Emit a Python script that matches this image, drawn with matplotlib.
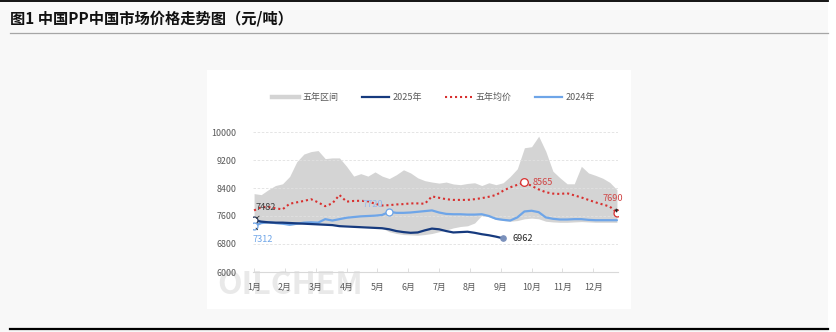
"""PP weekly price chart: five-year band, five-year average, 2024 and 2025."""
import numpy as np
import matplotlib
matplotlib.use("Agg")
import matplotlib.pyplot as plt
from matplotlib.lines import Line2D
from matplotlib.patches import Rectangle

plt.rcParams["font.family"] = ["Noto Sans CJK SC", "DejaVu Sans"]

W, H = 836, 332

weeks = np.arange(1, 53)
months = ["1月", "2月", "3月", "4月", "5月", "6月", "7月", "8月", "9月", "10月", "11月", "12月"]

band_high = [8240, 8210, 8350, 8470, 8520, 8730, 9150, 9370, 9440, 9470,
             9240, 9260, 9260, 9020, 8740, 8810, 8740, 8860, 8740, 8670,
             8780, 8920, 8830, 8690, 8610, 8570, 8540, 8570, 8515, 8495,
             8530, 8550, 8470, 8550, 8495, 8550, 8730, 8950, 9550, 9580,
             9880, 9450, 8880, 8690, 8520, 8520, 9020, 8830, 8760, 8680,
             8560, 8350]
band_low = [7290, 7380, 7400, 7380, 7370, 7340, 7360, 7380, 7390, 7380,
            7370, 7360, 7350, 7340, 7330, 7320, 7300, 7290, 7250, 7150,
            7100, 7070, 7060, 7050, 7070, 7100, 7150, 7200, 7260, 7300,
            7320, 7400, 7620, 7580, 7500, 7470, 7450, 7470, 7520, 7540,
            7520, 7450, 7430, 7420, 7420, 7430, 7440, 7430, 7420, 7420,
            7420, 7420]
avg_5y = [7760, 7850, 7860, 7820, 7790, 7950, 7990, 8030, 8080, 7990,
          7880, 7960, 8200, 8010, 8030, 8035, 8020, 7950, 7900, 7910,
          7930, 7940, 7960, 7960, 7950, 8160, 8120, 8080, 8060, 8060,
          8060, 8080, 8110, 8150, 8200, 8320, 8420, 8490, 8565, 8460,
          8360, 8280, 8240, 8230, 8250, 8190, 8130, 8060, 7990, 7930,
          7870, 7690]
price_2024 = [7312, 7400, 7420, 7400, 7380, 7350, 7380, 7410, 7420, 7410,
              7510, 7470, 7510, 7550, 7570, 7590, 7600, 7610, 7630, 7720,
              7690, 7690, 7700, 7720, 7740, 7760, 7700, 7660, 7650, 7650,
              7640, 7640, 7650, 7600, 7520, 7490, 7470, 7560, 7730, 7750,
              7710, 7560, 7520, 7500, 7500, 7510, 7510, 7490, 7480, 7480,
              7480, 7480]
price_2025 = [7482, 7440, 7420, 7410, 7410, 7400, 7390, 7380, 7370, 7360,
              7350, 7340, 7310, 7300, 7290, 7280, 7270, 7260, 7250, 7220,
              7170, 7140, 7120, 7130, 7190, 7240, 7220, 7170, 7130, 7140,
              7150, 7120, 7080, 7050, 7010, 6962]

C_BAND = "#d4d4d4"
C_2025 = "#163a7e"
C_2024 = "#6ea5e8"
C_AVG = "#d8302f"
C_TICK = "#595959"


def fx(px):
    return px / W


def fy(py):
    return 1 - py / H


fig = plt.figure(figsize=(W / 100, H / 100), dpi=100, facecolor="#f8f8f8")

# page frame: title rule lines and white chart card (kept below the axes)
fig.add_artist(Rectangle((fx(828), 0), 1 - fx(828), 1, transform=fig.transFigure,
                         facecolor="white", edgecolor="none", zorder=-2))
fig.add_artist(Rectangle((fx(207), fy(309)), fx(631) - fx(207), fy(70) - fy(309),
                         transform=fig.transFigure, facecolor="white", edgecolor="none",
                         zorder=-2))
fig.add_artist(Line2D([0, fx(828)], [fy(0.8)] * 2, color="black", lw=1.3))
fig.add_artist(Line2D([fx(10), fx(828)], [fy(33.3)] * 2, color="#a6a6a6", lw=0.9))
fig.add_artist(Line2D([fx(10), fx(828)], [fy(329)] * 2, color="black", lw=1.6))
fig.text(fx(10), fy(18), "图1 中国PP中国市场价格走势图（元/吨）", fontsize=11,
         fontweight="bold", color="#111111", ha="left", va="center")

# faint logo behind the lower-left corner of the plot
fig.text(fx(217), fy(301), "OILCHEM", fontsize=23, fontweight="bold",
         color="#e9e9e9", ha="left", va="bottom", zorder=-1)

ax = fig.add_axes([fx(253), fy(272), fx(618) - fx(253), fy(132) - fy(272)])
ax.set_facecolor("none")
ax.set_xlim(0.85, 52.15)
ax.set_ylim(6000, 10000)

ax.fill_between(weeks, band_low, band_high, color=C_BAND, lw=0, zorder=1)
ax.plot(weeks, price_2024, color=C_2024, lw=1.6, zorder=2, solid_capstyle="round")
ax.plot(weeks[:len(price_2025)], price_2025, color=C_2025, lw=1.6, zorder=3,
        solid_capstyle="round")
ax.plot(weeks, avg_5y, color=C_AVG, lw=1.5, ls=(0, (1, 1.4)), zorder=4,
        dash_capstyle="butt")

# highlighted points
w_2025_end = weeks[len(price_2025) - 1]
w_avg_max = weeks[int(np.argmax(avg_5y))]
w_2024_mark = weeks[19]
ax.plot(weeks[0], price_2025[0], "o", ms=5, mfc="white", mec="#2f3f5f", mew=0.9, zorder=6)
ax.plot(weeks[0], price_2024[0], "o", ms=5, mfc="white", mec=C_2024, mew=0.9, zorder=6)
ax.plot(w_2024_mark, price_2024[19], "o", ms=5, mfc="white", mec=C_2024, mew=0.9, zorder=6)
ax.plot(w_avg_max, max(avg_5y), "o", ms=5.5, mfc="white", mec=C_AVG, mew=0.9, zorder=6)
ax.plot(weeks[-1], avg_5y[-1], "o", ms=5, mfc="white", mec=C_AVG, mew=0.9, zorder=6)
ax.plot(w_2025_end, price_2025[-1], "o", ms=3.8, mfc="#7a90bb", mec="#7a90bb", zorder=6)

lab = dict(fontsize=6.6, textcoords="offset pixels", va="center", zorder=7)
ax.annotate(f"{price_2025[0]}", (weeks[0], price_2025[0]), xytext=(12, 13), ha="center",
            color="#404040", arrowprops=dict(arrowstyle="-", color="#333333", lw=0.6,
                                             relpos=(0.5, 0.1), shrinkB=2), **lab)
ax.annotate(f"{price_2024[0]}", (weeks[0], price_2024[0]), xytext=(9, -13), ha="center",
            color=C_2024, arrowprops=dict(arrowstyle="-", color="#333333", lw=0.6,
                                          relpos=(0.5, 0.9), shrinkB=2), **lab)
ax.annotate(f"{price_2024[19]}", (w_2024_mark, price_2024[19]), xytext=(-6, 7),
            ha="right", color="#93b9ec", **lab)
ax.annotate(f"{max(avg_5y)}", (w_avg_max, max(avg_5y)), xytext=(8, 0), ha="left",
            color="#d04848", **lab)
ax.annotate(f"{avg_5y[-1]}", (weeks[-1], avg_5y[-1]), xytext=(-4, 14), ha="center",
            color="#d04848", arrowprops=dict(arrowstyle="-|>", color="#222222", lw=0.6,
                                             mutation_scale=4, relpos=(0.6, 0.1),
                                             shrinkB=3), **lab)
ax.annotate(f"{price_2025[-1]}", (w_2025_end, price_2025[-1]), xytext=(9, 0), ha="left",
            color="#262626", **lab)

ax.set_yticks(np.arange(6000, 10001, 800))
ax.set_yticklabels([f"{v}" for v in range(6000, 10001, 800)])
ax.set_xticks(1 + np.arange(12) * 52 / 12)
ax.set_xticklabels(months)
ax.tick_params(axis="y", length=0, pad=12, labelsize=6.4, labelcolor=C_TICK)
ax.tick_params(axis="x", direction="in", length=3, width=0.6, color="#d9d9d9",
               pad=8, labelsize=6.4, labelcolor=C_TICK)
ax.grid(axis="y", color="#e1e1e1", lw=0.6, ls=(0, (3, 2)))
for side in ("top", "right", "left"):
    ax.spines[side].set_visible(False)
ax.spines["bottom"].set_color("#d9d9d9")
ax.spines["bottom"].set_linewidth(0.8)

handles = [
    Line2D([], [], color=C_BAND, lw=3.2),
    Line2D([], [], color=C_2025, lw=1.6),
    Line2D([], [], color=C_AVG, lw=1.5, ls=(0, (1, 1.4))),
    Line2D([], [], color=C_2024, lw=1.6),
]
fig.legend(handles, ["五年区间", "2025年", "五年均价", "2024年"], loc="center",
           bbox_to_anchor=(fx(433.5), fy(97.7)), ncol=4, frameon=False, fontsize=6.5,
           handlelength=3.0, handletextpad=0.35, columnspacing=2.6, labelcolor="#595959")

fig.savefig("out.png", dpi=100, facecolor=fig.get_facecolor())
